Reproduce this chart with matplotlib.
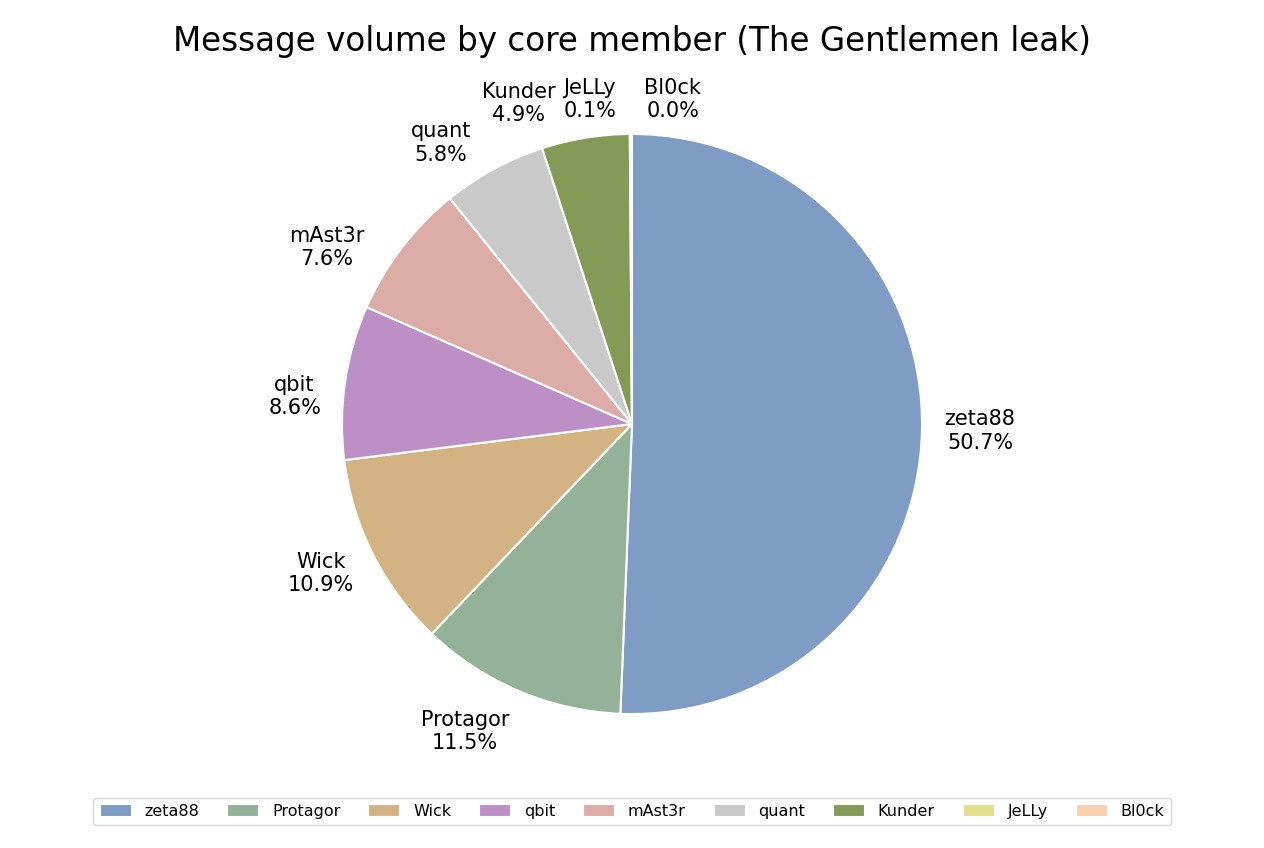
import matplotlib.pyplot as plt
import numpy as np

# Message share per member (percent)
members = ['zeta88', 'Protagor', 'Wick', 'qbit', 'mAst3r', 'quant', 'Kunder', 'JeLLy', 'Bl0ck']
shares = [50.7, 11.5, 10.9, 8.6, 7.6, 5.8, 4.9, 0.1, 0.02]
colors = ['#7f9cc4', '#93b298', '#d3b383', '#bc90c6', '#dcaca7',
          '#c9c9c9', '#869a57', '#e3de8c', '#f8d0b0']

# label nudges (data units) so the small slices don't collide
nudges = {
    'Protagor': (-0.107, 0.045),
    'Wick': (0.0, 0.024),
    'qbit': (0.024, -0.079),
    'mAst3r': (-0.1, -0.12),
    'quant': (-0.086, -0.086),
    'Kunder': (-0.197, -0.08),
    'JeLLy': (-0.141, -0.08),
    'Bl0ck': (0.141, -0.08),
}

fig = plt.figure(figsize=(12.64, 8.48), dpi=100)
ax = fig.add_axes([0.2132, 0.0725, 0.5736, 0.855])

wedges, _ = ax.pie(shares, colors=colors, startangle=90, counterclock=False,
                   wedgeprops=dict(edgecolor='white', linewidth=1.5))
ax.set_xlim(-1.25, 1.25)
ax.set_ylim(-1.25, 1.25)
ax.set_aspect('equal')

for w, name, val in zip(wedges, members, shares):
    ang = np.deg2rad((w.theta1 + w.theta2) / 2)
    x = 1.2 * np.cos(ang)
    y = 1.2 * np.sin(ang)
    dx, dy = nudges.get(name, (0, 0))
    ax.text(x + dx, y + dy, f'{name}\n{val:.1f}%',
            ha='center', va='center', fontsize=15)

fig.suptitle('Message volume by core member (The Gentlemen leak)', fontsize=23.5, y=0.97)

fig.legend(wedges, members, loc='center', bbox_to_anchor=(0.5, 0.043),
           ncol=len(members), fontsize=11.5, frameon=True, handleheight=0.9,
           columnspacing=1.75)

plt.savefig('out.png')
